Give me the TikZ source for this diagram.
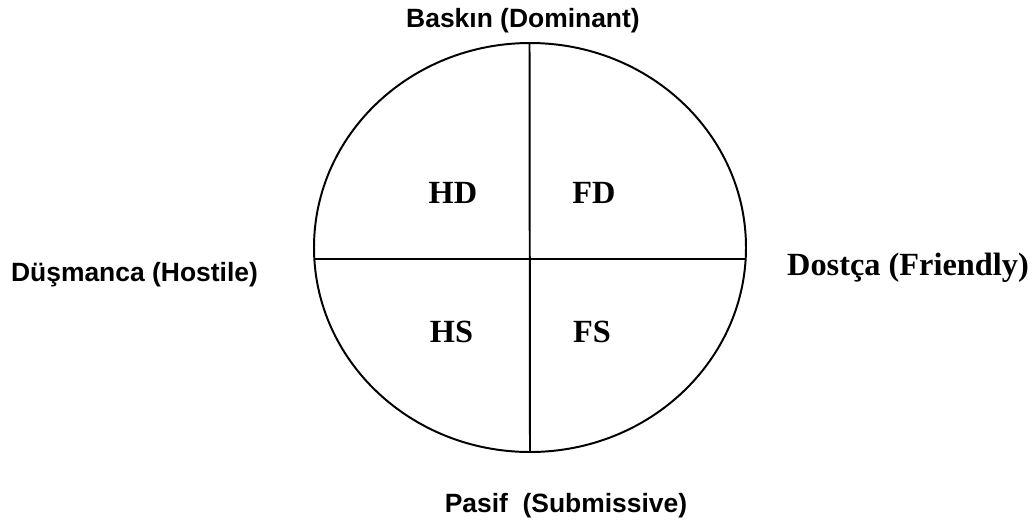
\documentclass[tikz,border=0pt]{standalone}
\usepackage{fontspec}
\usepackage{tikz}
\usetikzlibrary{positioning}
\newfontfamily\axisfont{Liberation Sans}
\newfontfamily\quadfont{Liberation Serif}

\tikzset{
    axislabel/.style={font=\axisfont\bfseries\fontsize{18.8pt}{22pt}\selectfont, inner sep=0pt},
    quadlabel/.style={font=\quadfont\bfseries\fontsize{23pt}{26pt}\selectfont, inner sep=0pt},
    divider/.style={line width=1.4pt}
}

\begin{document}
\begin{tikzpicture}[x=0.025cm, y=-0.025cm]
    \useasboundingbox (0,0) rectangle (1034,522);
    % Outer ellipse
    \draw[divider] (530,247.5) ellipse (216 and 204.5);
    % Ends of the dividing lines
    \coordinate (top) at (529.5,43);
    \coordinate (bottom) at (530,452);
    \coordinate (left) at (314.2,259);
    \coordinate (right) at (745.8,259);
    \draw[divider] (top) -- (bottom);
    \draw[divider] (left) -- (right);
    % Quadrant labels
    \foreach \n/\x/\y in {HD/453/193, FD/594/193, HS/451.5/332, FS/592/332} {
        \node[quadlabel] (\n) at (\x,\y) {\n};
    }
    % Axis labels
    \node[axislabel] (dominant) at (523,21) {Baskın (Dominant)};
    \node[axislabel] (submissive) at (566,506) {Pasif\ \ (Submissive)};
    \node[axislabel] (hostile) at (134.5,274.5) {Düşmanca (Hostile)};
    \node[quadlabel] (friendly) at (908,267.5) {Dostça (Friendly)};
\end{tikzpicture}
\end{document}
